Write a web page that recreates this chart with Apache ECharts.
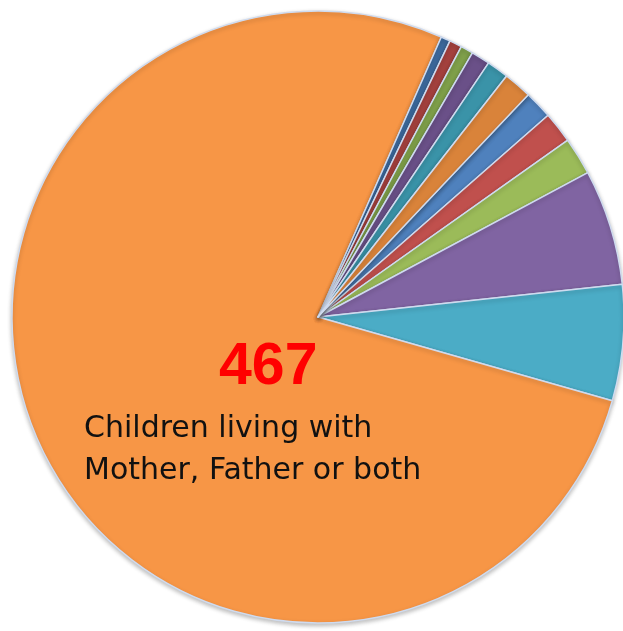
<!DOCTYPE html>
<html>
<head>
<meta charset="utf-8">
<script src="https://cdn.jsdelivr.net/npm/echarts@6/dist/echarts.min.js"></script>
<style>
  html, body { margin: 0; padding: 0; background: #fff; }
  #chart { width: 623px; height: 631px; }
</style>
</head>
<body>
<div id="chart"></div>
<script>
// 数据
const categories = ['A', 'B', 'C', 'D', 'E', 'Mother, Father or both', 'F', 'G', 'H', 'I', 'J', 'K']
const values = [9, 10, 12, 37, 37, 467, 3, 4, 4, 6, 7, 9]
const sliceColors = ['#4F81BD', '#C0504D', '#9BBB59', '#8064A2', '#4BACC6', '#F79646',
  '#3D6A9E', '#A4413E', '#7FA04A', '#6A5088', '#3A93A8', '#D9833A']
const bigValueText = '467'
const captionLines = ['Children living with', 'Mother, Father or both']

const myChart = echarts.init(document.getElementById('chart'), null, { renderer: 'canvas' })
const option = {
  animation: false,
  backgroundColor: '#ffffff',
  series: [
    {
      type: 'pie',
      center: [318, 317],
      radius: 306,
      startAngle: 46.6,
      clockwise: true,
      avoidLabelOverlap: false,
      label: { show: false },
      labelLine: { show: false },
      itemStyle: {
        borderColor: '#cfdbef',
        borderWidth: 1.5,
        shadowColor: 'rgba(0,0,0,0.25)',
        shadowBlur: 4,
        shadowOffsetY: 2
      },
      emphasis: { disabled: true },
      data: categories.map((name, i) => ({
        name: name,
        value: values[i],
        itemStyle: { color: sliceColors[i] }
      }))
    }
  ],
  graphic: [
    {
      type: 'text',
      z: 100,
      left: 219,
      top: 338,
      style: {
        text: bigValueText,
        fill: '#FF0000',
        font: 'bold 59px "Liberation Sans", Arial, sans-serif'
      }
    },
    {
      type: 'text',
      z: 100,
      left: 84,
      top: 408,
      style: {
        text: captionLines.join('\n'),
        fill: '#111111',
        font: '30px "DejaVu Sans", Verdana, sans-serif',
        lineHeight: 42
      }
    }
  ]
}
myChart.setOption(option)
window.addEventListener('resize', function() {
  myChart.resize()
})
</script>
</body>
</html>
